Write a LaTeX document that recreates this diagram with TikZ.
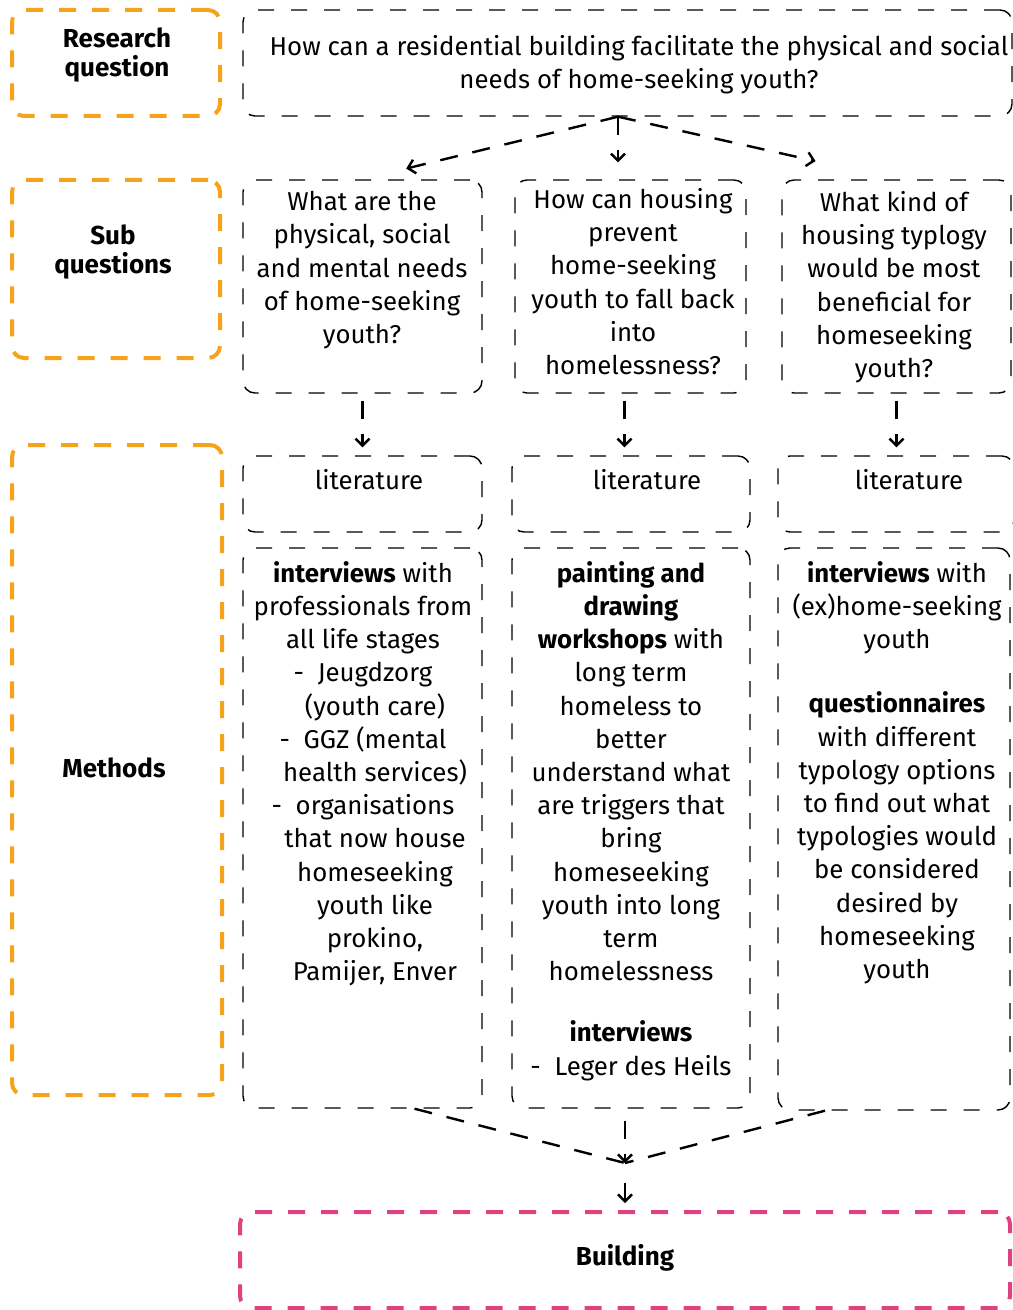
\documentclass[tikz,border=0pt]{standalone}
\usepackage{fontspec}
\setmainfont{Fira Sans}
\usetikzlibrary{arrows.meta}
\usetikzlibrary{positioning}
\definecolor{hdorange}{HTML}{F7A21B}
\definecolor{bldpink}{HTML}{E0427F}

\begin{document}
\begin{tikzpicture}[x=0.5pt,y=-0.5pt]
    \tikzset{
      headbox/.style={draw=hdorange,line width=2pt,dash pattern=on 8.5pt off 8pt,rounded corners=6pt,inner sep=0pt},
      bldbox/.style={headbox,draw=bldpink},
      qbox/.style={draw,line width=0.7pt,dash pattern=on 8pt off 8.5pt,rounded corners=6pt,inner sep=0pt},
      txt/.style={align=center,inner sep=0pt,anchor=north,font=\fontsize{12.9}{16.6}\selectfont},
      headtxt/.style={align=center,inner sep=0pt,font=\bfseries\fontsize{13}{14.5}\selectfont},
      flow/.style={-{Straight Barb[length=3.5pt,width=7pt]},line width=1.2pt,dash pattern=on 9pt off 7.5pt},
      flowline/.style={line width=1.2pt,dash pattern=on 9pt off 7.5pt}
    }
    \useasboundingbox (0,0) rectangle (1012,1310);

    % left column headings
    \node[headbox,minimum width=104pt,minimum height=53pt] (rqh) at (116,63) {};
    \node[headbox,minimum width=104pt,minimum height=89pt] (sqh) at (116,269) {};
    \node[headbox,minimum width=105pt,minimum height=325pt] (meh) at (117,770) {};
    \node[headtxt] (rqhl) at (117,55) {Research\\question};
    \node[headtxt] (sqhl) at (113,252) {Sub\\questions};
    \node[headtxt] (mehl) at (114,768) {Methods};

    % research question
    \node[qbox,minimum width=384.5pt,minimum height=53pt] (rq) at (627.5,63) {};
    \node[txt] (rqt) at (639,35) {How can a residential building facilitate the physical and social\\needs of home-seeking youth?};

    % sub questions
    \node[qbox,minimum width=119.5pt,minimum height=106.5pt] (sq1) at (362.5,286.5) {};
    \node[qbox,minimum width=115.5pt,minimum height=106.5pt] (sq2) at (630.5,286.5) {};
    \node[qbox,minimum width=114.5pt,minimum height=106.5pt] (sq3) at (896.5,286.5) {};
    \node[txt] (sq1t) at (362,191) {What are the\\physical, social\\and mental needs\\of home-seeking\\youth?};
    \node[txt] (sq2t) at (633,188) {How can housing\\prevent\\home-seeking\\youth to fall back\\into\\homelessness?};
    \node[txt] (sq3t) at (894,191) {What kind of\\housing typlogy\\would be most\\beneficial for\\homeseeking\\youth?};

    % literature
    \node[qbox,minimum width=119.5pt,minimum height=38pt] (lit1) at (362.5,494) {};
    \node[qbox,minimum width=119pt,minimum height=38pt] (lit2) at (631,494) {};
    \node[qbox,minimum width=118pt,minimum height=38pt] (lit3) at (896,494) {};
    \node[txt] (lit1t) at (369,469) {literature};
    \node[txt] (lit2t) at (647,469) {literature};
    \node[txt] (lit3t) at (909,469) {literature};

    % methods
    \node[qbox,minimum width=119.5pt,minimum height=280pt] (me1) at (362.5,828) {};
    \node[qbox,minimum width=119pt,minimum height=280pt] (me2) at (631,828) {};
    \node[qbox,minimum width=116pt,minimum height=281pt] (me3) at (894,829) {};
    \node[txt] (me1t) at (363,561) {\textbf{interviews} with\\professionals from\\all life stages\\-~~Jeugdzorg\\\hspace*{12pt}(youth care)\\-~~GGZ (mental\\\hspace*{12pt}health services)\\-~~organisations\\\hspace*{12pt}that now house\\\hspace*{12pt}homeseeking\\\hspace*{12pt}youth like\\\hspace*{12pt}prokino,\\\hspace*{12pt}Pamijer, Enver};
    \node[txt] (me2t) at (631,561) {\textbf{painting and}\\\textbf{drawing}\\\textbf{workshops} with\\long term\\homeless to\\better\\understand what\\are triggers that\\bring\\homeseeking\\youth into long\\term\\homelessness\\[14pt]\textbf{interviews}\\-~~Leger des Heils};
    \node[txt] (me3t) at (897,561) {\textbf{interviews} with\\(ex)home-seeking\\youth\\[15.5pt]\textbf{questionnaires}\\with different\\typology options\\to find out what\\typologies would\\be considered\\desired by\\homeseeking\\youth};

    % building
    \node[bldbox,minimum width=385pt,minimum height=48pt] (bld) at (625,1260) {};
    \node[headtxt] (bldt) at (625,1258) {Building};

    \coordinate (split) at ([xshift=-4.75pt]rq.south);
    \coordinate (merge) at ([yshift=23.5pt]bld.north);

    \draw[flow,shorten >=22.5pt] (split) -- (sq1.north);
    \draw[flow,shorten >=8.5pt] (split) -- (split |- sq2.north);
    \draw[flow,shorten >=41.5pt] (split) -- (sq3.north);

    \draw[flow,shorten <=3.5pt,shorten >=4pt] (sq1.south) -- (sq1.south |- lit1.north);
    \draw[flow,shorten <=3.5pt,shorten >=4pt] ([xshift=-3pt]sq2.south) -- ([xshift=-3pt]sq2.south |- lit2.north);
    \draw[flow,shorten <=3.5pt,shorten >=4pt] (sq3.south) -- (sq3.south |- lit3.north);

    \draw[flowline] ([xshift=26pt]me1.south) -- (merge);
    \draw[flowline] ([xshift=-34.5pt]me3.south) -- (merge);
    \draw[flow,shorten <=6pt] (merge |- me2.south) -- (merge);
    \draw[flow,shorten <=10pt,shorten >=3.5pt] (merge) -- (bld.north);
\end{tikzpicture}
\end{document}
